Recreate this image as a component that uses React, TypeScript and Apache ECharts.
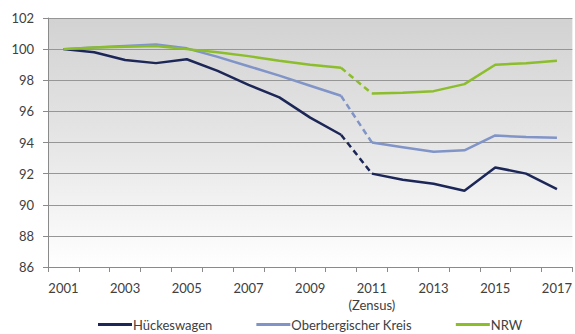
import React, { useEffect, useRef } from "react";
import * as echarts from "echarts";

// Bevölkerungsentwicklung, Index 2001 = 100
const years = ["2001", "2002", "2003", "2004", "2005", "2006", "2007", "2008", "2009", "2010", "2011", "2012", "2013", "2014", "2015", "2016", "2017"];
const hueckeswagen = [100, 99.8, 99.3, 99.1, 99.35, 98.6, 97.7, 96.9, 95.6, 94.5, 92.0, 91.6, 91.35, 90.9, 92.4, 92.0, 91.0];
const oberberg = [100, 100.1, 100.2, 100.3, 100.05, 99.5, 98.9, 98.3, 97.65, 97.0, 94.0, 93.7, 93.4, 93.5, 94.45, 94.35, 94.3];
const nrw = [100, 100.1, 100.15, 100.2, 100.0, 99.8, 99.55, 99.25, 99.0, 98.8, 97.15, 97.2, 97.3, 97.75, 99.0, 99.1, 99.25];
const censusBreak = 9; // 2010 -> 2011: Zensus-Korrektur, gestrichelt

const FONT = "Lato, 'Open Sans', sans-serif";

type Region = { name: string; values: number[]; color: string };
const regions: Region[] = [
  { name: "Hückeswagen", values: hueckeswagen, color: "#1c2758" },
  { name: "Oberbergischer Kreis", values: oberberg, color: "#8094c8" },
  { name: "NRW", values: nrw, color: "#8cbd2a" },
];

function splitSeries(r: Region) {
  const before = r.values.map((v, i) => (i <= censusBreak ? v : null));
  const bridge = r.values.map((v, i) => (i === censusBreak || i === censusBreak + 1 ? v : null));
  const after = r.values.map((v, i) => (i >= censusBreak + 1 ? v : null));
  const base = {
    type: "line" as const,
    name: r.name,
    showSymbol: false,
    symbol: "none",
    connectNulls: false,
    color: r.color,
  };
  return [
    { ...base, data: before, lineStyle: { color: r.color, width: 2.5 } },
    { ...base, data: bridge, lineStyle: { color: r.color, width: 2.5, type: [6, 4] } },
    { ...base, data: after, lineStyle: { color: r.color, width: 2.5 } },
  ];
}

export default function App() {
  const ref = useRef<HTMLDivElement>(null);
  useEffect(() => {
    if (!ref.current) return;
    const chart = echarts.init(ref.current, undefined, { renderer: "svg" });
    chart.setOption({
      animation: false,
      backgroundColor: "#ffffff",
      grid: {
        left: 48,
        right: 2,
        top: 18,
        bottom: 67,
        show: true,
        borderWidth: 0,
        backgroundColor: {
          type: "linear",
          x: 0,
          y: 0,
          x2: 0,
          y2: 1,
          colorStops: [
            { offset: 0, color: "#d2d2d2" },
            { offset: 0.55, color: "#e8e8e8" },
            { offset: 1, color: "#ffffff" },
          ],
        },
      },
      legend: {
        left: 93,
        top: 313,
        itemWidth: 34,
        itemHeight: 3,
        itemGap: 44,
        icon: "rect",
        textStyle: { fontFamily: FONT, fontSize: 13, color: "#404040", padding: [0, 0, 0, -4] },
        data: regions.map((r) => ({ name: r.name, itemStyle: { color: r.color } })),
      },
      xAxis: {
        type: "category",
        data: years,
        boundaryGap: true,
        axisLine: { lineStyle: { color: "#8a8a8a", width: 1 } },
        axisTick: { show: true, length: 5, interval: 0, lineStyle: { color: "#8a8a8a" } },
        axisLabel: {
          interval: 1,
          margin: 12,
          fontFamily: FONT,
          fontSize: 13,
          color: "#404040",
          lineHeight: 17,
          formatter: (v: string) => (v === "2011" ? "2011\n(Zensus)" : v),
        },
      },
      yAxis: {
        type: "value",
        min: 86,
        max: 102,
        interval: 2,
        axisLine: { show: true, lineStyle: { color: "#8a8a8a" } },
        axisTick: { show: true, length: 5, lineStyle: { color: "#8a8a8a" } },
        axisLabel: { margin: 14, fontFamily: FONT, fontSize: 13, color: "#404040" },
        splitLine: { lineStyle: { color: "#969696", width: 1 } },
      },
      series: regions.flatMap(splitSeries),
    });
    return () => chart.dispose();
  }, []);
  return (
    <div
      ref={ref}
      style={{ position: "fixed", left: 0, top: 0, width: 575, height: 334 }}
    />
  );
}
